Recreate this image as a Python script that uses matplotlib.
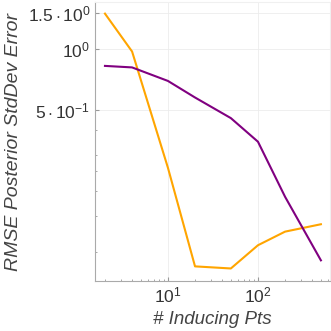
import matplotlib
matplotlib.use('Agg')
import matplotlib.pyplot as plt
from matplotlib.ticker import FixedLocator, FixedFormatter, LogLocator, NullFormatter

plt.rcParams['font.family'] = ['Liberation Sans', 'DejaVu Sans']
plt.rcParams['mathtext.fontset'] = 'custom'
plt.rcParams['mathtext.rm'] = 'Liberation Sans'
plt.rcParams['mathtext.it'] = 'Liberation Sans:italic'

# number of inducing points
nInducing = [2, 4, 10, 20, 50, 100, 200, 500]
# RMSE of posterior std dev, two methods
rmseOrange = [1.49, 0.97, 0.26, 0.085, 0.083, 0.108, 0.126, 0.137]
rmsePurple = [0.824, 0.81, 0.695, 0.576, 0.456, 0.349, 0.187, 0.091]

yTicks = [0.5, 1.0, 1.5]
yTickLabels = [r'$5\cdot10^{-1}$', r'$10^{0}$', r'$1.5\cdot10^{0}$']
xTicks = [10, 100]
xTickLabels = [r'$10^{1}$', r'$10^{2}$']

fig = plt.figure(figsize=(3.31, 3.31), dpi=100)
ax = fig.add_axes([0.287, 0.151, 0.71, 0.843])

ax.plot(nInducing, rmseOrange, color='#FFA500', lw=1.5)
ax.plot(nInducing, rmsePurple, color='#800080', lw=1.5)

ax.set_xscale('log')
ax.set_yscale('log')
ax.set_xlim(1.55, 631)
ax.set_ylim(0.072, 1.70)

ax.yaxis.set_major_locator(FixedLocator(yTicks))
ax.yaxis.set_major_formatter(FixedFormatter(yTickLabels))
ax.yaxis.set_minor_locator(LogLocator(subs=[1.0, 1.5, 2, 2.5, 3, 4]))
ax.yaxis.set_minor_formatter(NullFormatter())
ax.xaxis.set_major_locator(FixedLocator(xTicks))
ax.xaxis.set_major_formatter(FixedFormatter(xTickLabels))
ax.xaxis.set_minor_locator(LogLocator(subs='all'))
ax.xaxis.set_minor_formatter(NullFormatter())

ax.grid(True, which='major', color='#ececec', lw=0.6)
ax.tick_params(which='both', direction='in', colors='#999999', labelcolor='#333333',
               labelsize=12.5)
ax.tick_params(which='major', length=3)
ax.tick_params(which='minor', length=1.5)
for side in ['top', 'right']:
    ax.spines[side].set_color('#f0f0f0')
for side in ['left', 'bottom']:
    ax.spines[side].set_color('#aaaaaa')

ax.set_xlabel('# Inducing Pts', fontsize=13.5, style='italic', color='#444444', labelpad=4)
ax.set_ylabel('RMSE Posterior StdDev Error', fontsize=14, style='italic',
              color='#444444', labelpad=4)

fig.savefig('out.png', dpi=100)
